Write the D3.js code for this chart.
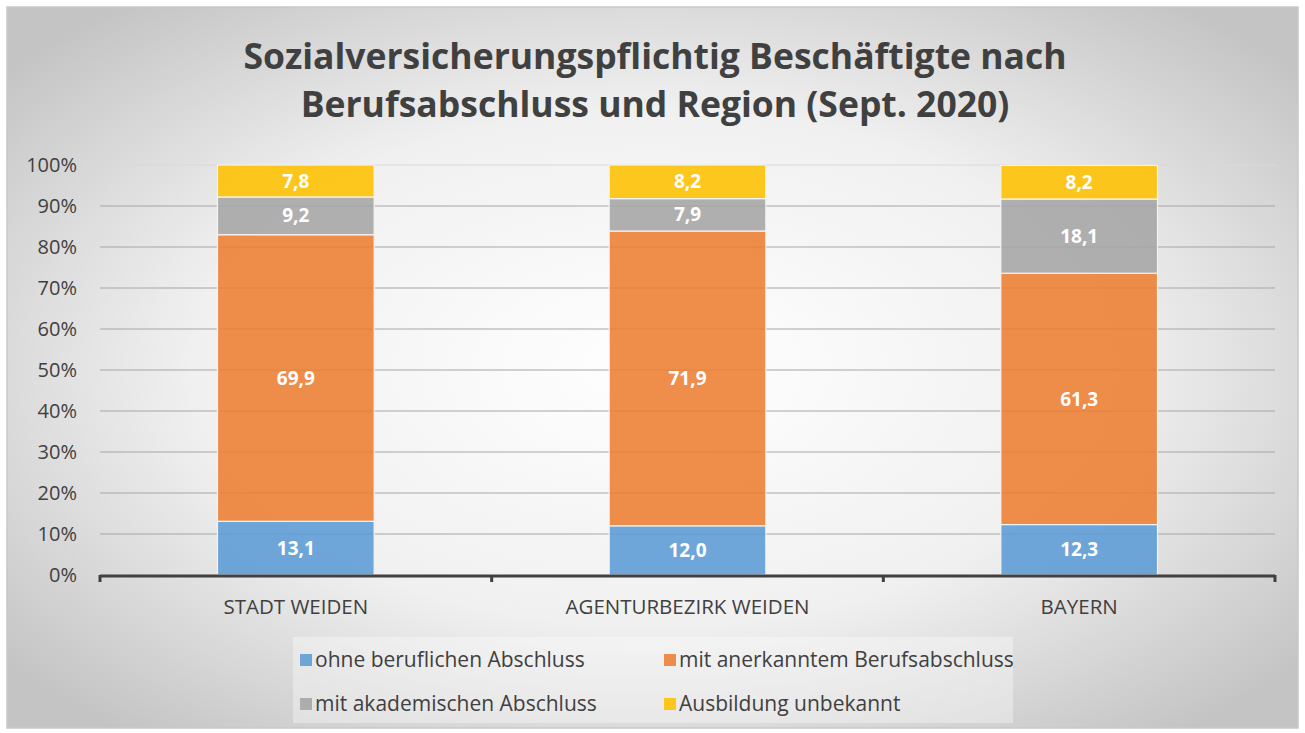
<!DOCTYPE html>
<html>
<head>
<meta charset="utf-8">
<script src="https://cdn.jsdelivr.net/npm/d3@7"></script>
<style>
  body { margin: 0; background: #fff; }
  svg { display: block; font-family: "Open Sans", Lato, sans-serif; }
</style>
</head>
<body>
<svg id="chart" width="1305" height="733"></svg>
<script>
const regions = ['STADT WEIDEN', 'AGENTURBEZIRK WEIDEN', 'BAYERN'];
const seriesNames = ['ohne beruflichen Abschluss', 'mit anerkanntem Berufsabschluss', 'mit akademischen Abschluss', 'Ausbildung unbekannt'];
const ohneAbschluss = [13.1, 12.0, 12.3];
const mitBerufsabschluss = [69.9, 71.9, 61.3];
const akademisch = [9.2, 7.9, 18.1];
const unbekannt = [7.8, 8.2, 8.2];
const yTicks = [0, 10, 20, 30, 40, 50, 60, 70, 80, 90, 100];
const colors = ['#5B9BD5', '#ED7D31', '#A5A5A5', '#FFC000'];

const W = 1305, H = 733;
const margin = { top: 165, right: 30, bottom: 158, left: 100 };
const svg = d3.select('#chart');

// background with soft radial shading
const defs = svg.append('defs');
const grad = defs.append('radialGradient').attr('id', 'bg')
  .attr('cx', '50%').attr('cy', '50%').attr('r', '65%');
grad.append('stop').attr('offset', '0%').attr('stop-color', '#ffffff');
grad.append('stop').attr('offset', '55%').attr('stop-color', '#f0f0f0');
grad.append('stop').attr('offset', '100%').attr('stop-color', '#c4c4c4');
svg.append('rect').attr('x', 7).attr('y', 7).attr('width', W - 14).attr('height', H - 12)
  .attr('fill', 'url(#bg)').attr('stroke', '#c8c8c8').attr('stroke-width', 1.5);

// title
svg.append('text').attr('x', 655).attr('text-anchor', 'middle')
  .attr('fill', '#404040').attr('font-weight', 'bold').attr('font-size', 35.5)
  .selectAll('tspan').data(['Sozialversicherungspflichtig Beschäftigte nach', 'Berufsabschluss und Region (Sept. 2020)'])
  .join('tspan').attr('x', 655).attr('y', (d, i) => 69 + i * 48).text(d => d);

const x = d3.scaleBand().domain(regions)
  .range([margin.left, W - margin.right]).paddingInner(0.6).paddingOuter(0.3);
const y = d3.scaleLinear().domain([0, 100]).range([H - margin.bottom, margin.top]);

// gridlines
svg.append('g').selectAll('line').data(yTicks.slice(1)).join('line')
  .attr('x1', margin.left).attr('x2', W - margin.right)
  .attr('y1', d => y(d)).attr('y2', d => y(d))
  .attr('stroke', d => d === 100 ? '#d9d9d9' : '#a6a6a6').attr('stroke-width', 1.2);

// y axis labels
const yAxis = svg.append('g').attr('transform', `translate(${margin.left},0)`)
  .call(d3.axisLeft(y).tickValues(yTicks).tickFormat(d => d + '%').tickSize(0).tickPadding(23));
yAxis.select('.domain').remove();
yAxis.selectAll('text').attr('font-size', 20).attr('fill', '#404040').attr('font-family', '"Open Sans", Lato, sans-serif');

// stacked bars
const rows = regions.map((r, i) => ({
  region: r,
  s0: ohneAbschluss[i], s1: mitBerufsabschluss[i], s2: akademisch[i], s3: unbekannt[i]
}));
const stack = d3.stack().keys(['s0', 's1', 's2', 's3'])(rows);

const layers = svg.append('g').selectAll('g').data(stack).join('g')
  .attr('fill', (d, i) => colors[i]);
layers.selectAll('rect').data(d => d).join('rect')
  .attr('x', d => x(d.data.region))
  .attr('width', x.bandwidth())
  .attr('y', d => y(d[1]))
  .attr('height', d => y(d[0]) - y(d[1]))
  .attr('fill-opacity', 0.88)
  .attr('stroke', '#f4f4f4').attr('stroke-width', 1.2);

layers.selectAll('text').data(d => d.map(v => ({ v, key: d.key }))).join('text')
  .attr('x', d => x(d.v.data.region) + x.bandwidth() / 2)
  .attr('y', d => (y(d.v[0]) + y(d.v[1])) / 2)
  .attr('dy', '0.35em')
  .attr('text-anchor', 'middle')
  .attr('fill', '#ffffff').attr('font-weight', 'bold').attr('font-size', 19)
  .text(d => d3.format('.1f')(d.v.data[d.key]).replace('.', ','));

// x axis
const xAxisY = y(0);
const g = svg.append('g');
g.append('line').attr('x1', margin.left).attr('x2', W - margin.right)
  .attr('y1', xAxisY + 1).attr('y2', xAxisY + 1)
  .attr('stroke', '#404040').attr('stroke-width', 3);
const boundaries = regions.map(r => x(r) - x.step() * x.paddingInner() / 2);
boundaries.push(W - margin.right);
boundaries[0] = margin.left;
g.selectAll('.tick').data(boundaries).join('line')
  .attr('x1', d => d).attr('x2', d => d)
  .attr('y1', xAxisY).attr('y2', xAxisY + 7)
  .attr('stroke', '#404040').attr('stroke-width', 3);
g.selectAll('text').data(regions).join('text')
  .attr('x', d => x(d) + x.bandwidth() / 2).attr('y', xAxisY + 39)
  .attr('text-anchor', 'middle').attr('font-size', 20.5).attr('fill', '#404040')
  .text(d => d);

// legend
const legend = svg.append('g');
legend.append('rect').attr('x', 293).attr('y', 637).attr('width', 720).attr('height', 86)
  .attr('fill', '#ffffff').attr('fill-opacity', 0.35);
const legendPos = [[300, 660], [664, 660], [300, 704], [664, 704]];
const items = legend.selectAll('g').data(seriesNames).join('g')
  .attr('transform', (d, i) => `translate(${legendPos[i][0]},${legendPos[i][1]})`);
items.append('rect').attr('x', 0).attr('y', -6).attr('width', 12).attr('height', 12)
  .attr('fill', (d, i) => colors[i]).attr('fill-opacity', 0.88);
items.append('text').attr('x', 15).attr('dy', '0.35em')
  .attr('font-size', 21).attr('fill', '#404040').text(d => d);
</script>
</body>
</html>
